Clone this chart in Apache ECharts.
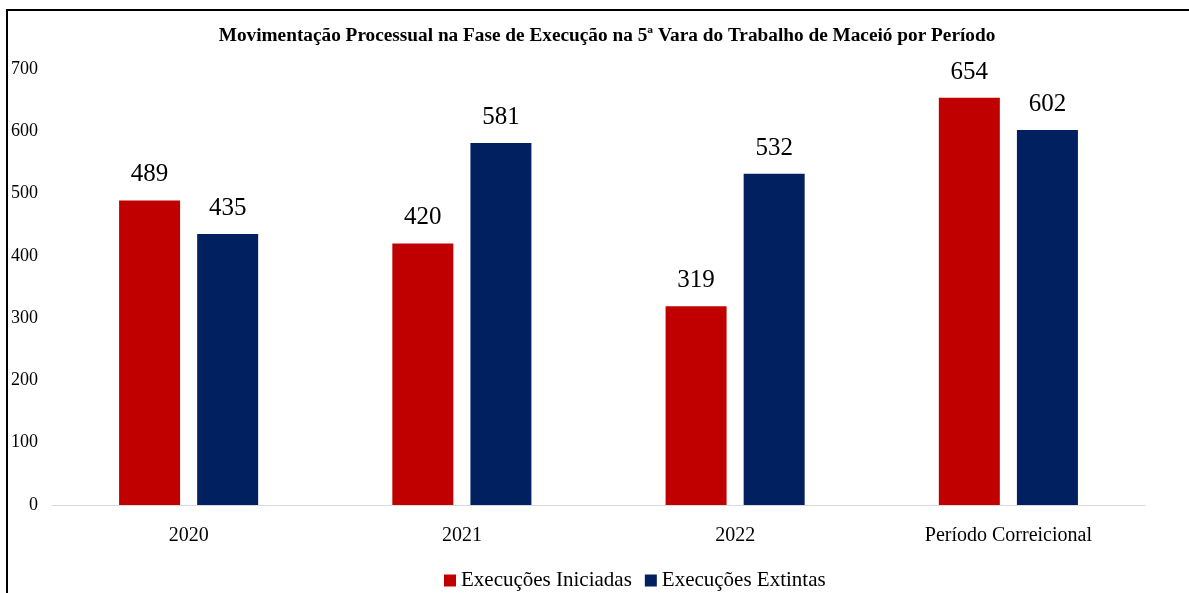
<!DOCTYPE html>
<html><head><meta charset="utf-8">
<script src="https://cdn.jsdelivr.net/npm/echarts@6/dist/echarts.min.js"></script>
<style>html,body{margin:0;padding:0;background:#fff}#c{width:1189px;height:593px}</style>
</head><body><div id="c"></div>
<script>
const categories = ['2020', '2021', '2022', 'Período Correicional'];
const iniciadas = [489, 420, 319, 654];
const extintas = [435, 581, 532, 602];
const seriesNames = ['Execuções Iniciadas', 'Execuções Extintas'];
const titleText = 'Movimentação Processual na Fase de Execução na 5ª Vara do Trabalho de Maceió por Período';

const font = '"Liberation Serif", "Times New Roman", serif';
const chart = echarts.init(document.getElementById('c'), null, {renderer: 'canvas'});
const lbl = {show: true, position: 'top', distance: 13, fontFamily: font, fontSize: 25, color: '#000'};
chart.setOption({
  animation: false,
  backgroundColor: '#fff',
  textStyle: {fontFamily: font},
  graphic: [{type: 'rect', shape: {x: 7, y: 10, width: 1400, height: 800}, style: {fill: 'none', stroke: '#000', lineWidth: 2}, silent: true}],
  title: {text: titleText, left: 602, textAlign: 'center', top: 22,
    textStyle: {fontFamily: font, fontSize: 19.3, fontWeight: 'bold', color: '#000'}},
  legend: {data: seriesNames, left: 439, top: 565, itemWidth: 12, itemHeight: 12, itemGap: 13,
    icon: 'rect', textStyle: {fontFamily: font, fontSize: 21, color: '#000'}},
  grid: {left: 52, right: 44, top: 69, bottom: 88, containLabel: false},
  xAxis: {type: 'category', data: categories,
    axisLine: {lineStyle: {color: '#d9d9d9', width: 1}}, axisTick: {show: false},
    axisLabel: {fontFamily: font, fontSize: 20, color: '#000', margin: 21}},
  yAxis: {type: 'value', min: 0, max: 700, interval: 100,
    splitLine: {show: false}, axisLine: {show: false}, axisTick: {show: false},
    axisLabel: {fontFamily: font, fontSize: 18, color: '#000', margin: 14}},
  series: [
    {name: seriesNames[0], type: 'bar', data: iniciadas, barWidth: 61, barGap: '28%', itemStyle: {color: '#C00000'}, label: lbl},
    {name: seriesNames[1], type: 'bar', data: extintas, barWidth: 61, itemStyle: {color: '#002060'}, label: lbl}
  ]
});
</script></body></html>
